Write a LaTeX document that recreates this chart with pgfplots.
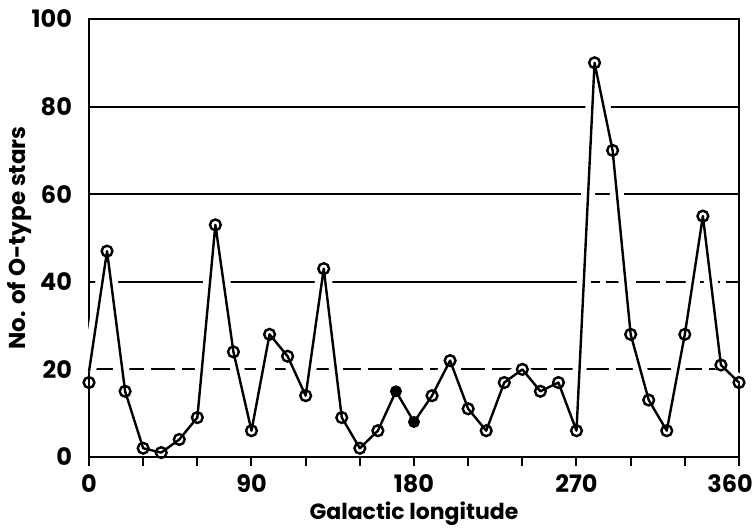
\documentclass[border=0pt]{standalone}
\usepackage{pgfplots}
\pgfplotsset{compat=1.18}
\usepackage{fontspec}
\setmainfont{Poppins}
\begin{document}
\begin{tikzpicture}
\begin{axis}[
  width=325pt, height=219pt, scale only axis,
  xmin=0, xmax=360, ymin=0, ymax=100,
  axis line style={line width=1pt},
  xtick={0,30,...,360},
  xticklabels={0,,,90,,,180,,,270,,,{\hspace*{-9pt}360}},
  ytick={0,20,...,100},
  xtick pos=bottom,
  tick align=outside,
  major tick length=4.5pt,
  xtick style={line width=1pt, black},
  ytick style={draw=none},
  tick label style={font=\fontsize{12}{14}\selectfont\bfseries},
  xticklabel style={yshift=-1pt},
  yticklabel style={xshift=-0.5pt},
  /pgf/number format/assume math mode=true,
  xlabel={Galactic longitude},
  ylabel={No. of O-type stars},
  xlabel style={font=\fontsize{11}{13}\selectfont\bfseries,
    at={([yshift=-28.5pt]axis description cs:0.5,0)}, anchor=center},
  ylabel style={font=\fontsize{11.5}{13}\selectfont\bfseries,
    at={([xshift=-34.5pt]axis description cs:0,0.5)}, anchor=center},
  clip=false,
]
% horizontal reference lines
\addplot[line width=1pt, forget plot] coordinates {(0,80)(360,80)};
\addplot[line width=1pt, forget plot] coordinates {(0,60)(360,60)};
\addplot[line width=1pt, forget plot] coordinates {(0,40)(270,40)};
\addplot[line width=1pt, dash pattern=on 12pt off 3pt, forget plot] coordinates {(270,40)(360,40)};
\addplot[line width=1pt, dash pattern=on 12pt off 3.5pt, forget plot] coordinates {(0,20)(360,20)};
% data line
\addplot[black, line width=1.2pt, line join=round, preaction={draw=white, line width=7pt, line join=round}] coordinates {
(0,19.5)(10,47)(20,15)(30,2)(40,1)(50,4)(60,9)(70,53)(80,24)(90,6)
(100,28)(110,23)(120,14)(130,43)(140,9)(150,2)(160,6)(170,15)(180,8)
(190,14)(200,22)(210,11)(220,6)(230,17)(240,20)(250,15)(260,17)(270,6)
(280,90)(290,70)(300,28)(310,13)(320,6)(330,28)(340,55)(350,21)(360,17)};
% restore bottom axis line
\addplot[line width=1pt, forget plot] coordinates {(0,0)(360,0)};
% open markers
\addplot[only marks, mark=o, mark size=2.7pt, mark options={line width=1.2pt, fill=white}] coordinates {
(0,17)(10,47)(20,15)(30,2)(40,1)(50,4)(60,9)(70,53)(80,24)(90,6)
(100,28)(110,23)(120,14)(130,43)(140,9)(150,2)(160,6)
(190,14)(200,22)(210,11)(220,6)(230,17)(240,20)(250,15)(260,17)(270,6)
(280,90)(290,70)(300,28)(310,13)(320,6)(330,28)(340,55)(350,21)(360,17)};
% filled markers
\addplot[only marks, mark=*, mark size=2.8pt, black] coordinates {(170,15)(180,8)};
\end{axis}
\pgfresetboundingbox
\path ([shift={(-44.5pt,-36pt)}]current axis.south west) rectangle ([shift={(8.5pt,9.5pt)}]current axis.north east);
\end{tikzpicture}
\end{document}
